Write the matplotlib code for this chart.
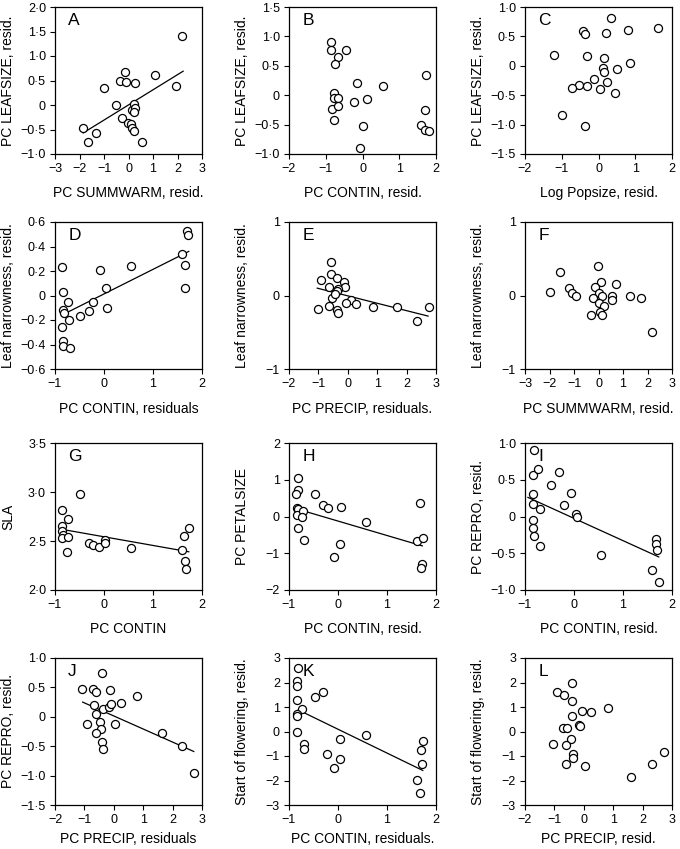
import matplotlib
matplotlib.use('Agg')
import matplotlib.pyplot as plt
from matplotlib.ticker import FixedLocator, FuncFormatter

plt.rcParams['font.family'] = ['Liberation Sans', 'DejaVu Sans']

# panel A
a_x = [-1.85, -1.66, -1.34, -1.02, -0.52, -0.33, -0.14, -0.11, -0.27, -0.03, 0.12,
       0.16, 0.22, 0.27, 0.22, 0.16, 0.24, 0.26, 0.54, 1.10, 1.94, 2.19]
a_y = [-0.47, -0.76, -0.58, 0.35, -0.01, 0.48, 0.67, 0.46, -0.27, -0.37, -0.38,
       -0.10, 0.03, -0.06, -0.14, -0.47, -0.53, 0.44, -0.76, 0.61, 0.39, 1.40]
a_fit = ([-1.85, 2.23], [-0.57, 0.69])

# panel B
b_x = [-0.86, -0.87, -0.67, -0.76, -0.46, -0.15, 0.56, -0.77, -0.78, -0.68, -0.82,
       -0.68, -0.77, -0.24, 0.11, 0.02, -0.07, 1.72, 1.71, 1.60, 1.69, 1.82]
b_y = [0.90, 0.77, 0.65, 0.53, 0.77, 0.21, 0.15, 0.03, -0.05, -0.04, -0.23,
       -0.19, -0.43, -0.12, -0.06, -0.53, -0.89, 0.35, -0.26, -0.50, -0.60, -0.61]

# panel C
c_x = [0.33, -0.42, -0.37, 0.20, 0.81, 1.61, -1.22, -0.32, 0.14, 0.87, 0.12,
       0.16, 0.51, -0.11, 0.24, -0.52, -0.71, -0.32, 0.05, 0.45, -0.99, -0.36]
c_y = [0.81, 0.59, 0.54, 0.55, 0.61, 0.65, 0.19, 0.16, 0.14, 0.05, -0.04,
       -0.11, -0.06, -0.22, -0.28, -0.33, -0.38, -0.34, -0.39, -0.47, -0.83, -1.03]

# panel D
d_x = [-0.85, -0.84, -0.73, -0.84, -0.82, -0.71, -0.85, -0.83, -0.84, -0.70, -0.48,
       -0.31, -0.23, -0.09, 0.04, 0.06, 0.55, 1.59, 1.69, 1.71, 1.66, 1.66]
d_y = [0.23, 0.03, -0.05, -0.12, -0.14, -0.20, -0.26, -0.37, -0.41, -0.43, -0.17,
       -0.13, -0.05, 0.21, 0.06, -0.10, 0.24, 0.34, 0.53, 0.49, 0.25, 0.06]
d_fit = ([-0.86, 1.73], [-0.16, 0.36])

# panel E
e_x = [-0.57, -0.57, -0.90, -0.37, -0.12, -0.65, -0.10, -0.33, -0.38, -0.55, -0.43,
       0.10, -0.05, 0.29, 0.85, 1.68, 2.75, 2.35, -1.03, -0.65, -0.38, -0.34]
e_y = [0.46, 0.29, 0.21, 0.24, 0.19, 0.12, 0.11, 0.09, 0.06, -0.03, 0.02,
       -0.06, -0.10, -0.12, -0.15, -0.16, -0.16, -0.35, -0.19, -0.14, -0.20, -0.24]
e_fit = ([-1.04, 2.73], [0.10, -0.28])

# panel F
f_x = [-1.98, -1.59, -1.22, -1.10, -0.90, -0.01, 0.12, -0.14, 0.03, 0.14, -0.22,
       0.03, 0.22, 0.05, -0.29, 0.14, 0.72, 0.56, 0.56, 1.29, 1.75, 2.20]
f_y = [0.05, 0.32, 0.10, 0.03, -0.01, 0.40, 0.18, 0.11, 0.04, 0.00, -0.04,
       -0.10, -0.14, -0.22, -0.26, -0.27, 0.15, 0.00, -0.06, -0.01, -0.04, -0.49]

# panel G
g_x = [-0.48, -0.86, -0.73, -0.85, -0.85, -0.84, -0.85, -0.73, -0.75, -0.31, -0.22,
       -0.10, 0.03, 0.03, 0.55, 1.60, 1.73, 1.63, 1.66, 1.68]
g_y = [2.98, 2.82, 2.72, 2.65, 2.60, 2.56, 2.53, 2.54, 2.39, 2.48, 2.46,
       2.44, 2.51, 2.48, 2.43, 2.41, 2.63, 2.55, 2.30, 2.21]
g_fit = ([-0.87, 1.73], [2.62, 2.39])

# panel H
h_x = [-0.82, -0.82, -0.85, -0.84, -0.82, -0.83, -0.71, -0.73, -0.82, -0.70, -0.46,
       -0.30, -0.21, 0.07, 0.05, -0.09, 0.57, 1.67, 1.62, 1.74, 1.72, 1.69]
h_y = [1.05, 0.71, 0.62, 0.24, 0.20, 0.05, 0.16, -0.02, -0.31, -0.65, 0.61,
       0.31, 0.24, 0.25, -0.74, -1.11, -0.16, 0.36, -0.67, -0.58, -1.29, -1.40]
h_fit = ([-0.85, 1.72], [0.21, -0.80])

# panel I
i_x = [-0.82, -0.84, -0.73, -0.31, -0.47, -0.06, -0.84, -0.84, -0.21, -0.70, 0.05,
       0.06, -0.84, -0.84, -0.82, -0.70, 0.56, 1.68, 1.68, 1.70, 1.59, 1.73]
i_y = [0.90, 0.57, 0.64, 0.61, 0.43, 0.32, 0.30, 0.17, 0.15, 0.10, 0.03,
       0.00, -0.05, -0.15, -0.27, -0.40, -0.53, -0.31, -0.37, -0.45, -0.73, -0.89]
i_fit = ([-0.94, 1.73], [0.26, -0.55])

# panel J
j_x = [-0.40, -1.07, -0.70, -0.59, -0.14, 0.80, -0.68, -0.38, -0.18, -0.08, 0.24,
       -0.60, -0.90, -0.46, 0.05, -0.42, -0.60, -0.39, -0.38, 1.64, 2.31, 2.72]
j_y = [0.74, 0.48, 0.47, 0.43, 0.46, 0.36, 0.20, 0.14, 0.16, 0.21, 0.23,
       0.05, -0.12, -0.09, -0.13, -0.21, -0.27, -0.43, -0.54, -0.28, -0.49, -0.96]
j_fit = ([-1.06, 2.72], [0.25, -0.59])

# panel K
k_x = [-0.82, -0.83, -0.83, -0.84, -0.73, -0.84, -0.83, -0.84, -0.47, -0.30, -0.70,
       -0.70, -0.23, 0.05, 0.05, -0.08, 0.57, 1.74, 1.70, 1.71, 1.61, 1.68]
k_y = [2.60, 2.05, 1.85, 1.27, 0.90, 0.71, 0.64, -0.01, 1.39, 1.60, -0.52,
       -0.71, -0.91, -0.31, -1.11, -1.50, -0.14, -0.39, -0.75, -1.34, -1.98, -2.49]
k_fit = ([-0.81, 1.73], [0.88, -1.59])

# panel L
l_x = [-0.39, -0.90, -0.66, -0.39, -0.39, -0.05, 0.25, 0.82, -0.15, -0.12, -0.70,
       -0.56, -0.43, -1.06, -0.59, -0.37, -0.36, -0.61, 0.05, 1.62, 2.31, 2.73]
l_y = [1.97, 1.60, 1.50, 1.23, 0.65, 0.82, 0.78, 0.95, 0.27, 0.24, 0.14,
       0.14, -0.32, -0.49, -0.57, -0.90, -1.08, -1.31, -1.41, -1.85, -1.31, -0.83]

panels = [
    ('A', a_x, a_y, a_fit, 'PC SUMMWARM, resid.', 'PC LEAFSIZE, resid.',
     [-3, -2, -1, 0, 1, 2, 3], [-1.0, -0.5, 0, 0.5, 1.0, 1.5, 2.0], 1),
    ('B', b_x, b_y, None, 'PC CONTIN, resid.', 'PC LEAFSIZE, resid.',
     [-2, -1, 0, 1, 2], [-1.0, -0.5, 0, 0.5, 1.0, 1.5], 1),
    ('C', c_x, c_y, None, 'Log Popsize, resid.', 'PC LEAFSIZE, resid.',
     [-2, -1, 0, 1, 2], [-1.5, -1.0, -0.5, 0, 0.5, 1.0], 1),
    ('D', d_x, d_y, d_fit, 'PC CONTIN, residuals', 'Leaf narrowness, resid.',
     [-1, 0, 1, 2], [-0.6, -0.4, -0.2, 0, 0.2, 0.4, 0.6], 1),
    ('E', e_x, e_y, e_fit, 'PC PRECIP, residuals.', 'Leaf narrowness, resid.',
     [-2, -1, 0, 1, 2, 3], [-1, 0, 1], 0),
    ('F', f_x, f_y, None, 'PC SUMMWARM, resid.', 'Leaf narrowness, resid.',
     [-3, -2, -1, 0, 1, 2, 3], [-1, 0, 1], 0),
    ('G', g_x, g_y, g_fit, 'PC CONTIN', 'SLA',
     [-1, 0, 1, 2], [2.0, 2.5, 3.0, 3.5], 1),
    ('H', h_x, h_y, h_fit, 'PC CONTIN, resid.', 'PC PETALSIZE',
     [-1, 0, 1, 2], [-2, -1, 0, 1, 2], 0),
    ('I', i_x, i_y, i_fit, 'PC CONTIN, resid.', 'PC REPRO, resid.',
     [-1, 0, 1, 2], [-1.0, -0.5, 0, 0.5, 1.0], 1),
    ('J', j_x, j_y, j_fit, 'PC PRECIP, residuals', 'PC REPRO, resid.',
     [-2, -1, 0, 1, 2, 3], [-1.5, -1.0, -0.5, 0, 0.5, 1.0], 1),
    ('K', k_x, k_y, k_fit, 'PC CONTIN, residuals.', 'Start of flowering, resid.',
     [-1, 0, 1, 2], [-3, -2, -1, 0, 1, 2, 3], 0),
    ('L', l_x, l_y, None, 'PC PRECIP, resid.', 'Start of flowering, resid.',
     [-2, -1, 0, 1, 2, 3], [-3, -2, -1, 0, 1, 2, 3], 0),
]


def tick_fmt(nd):
    def f(v, pos):
        if abs(v) < 1e-9:
            return '0'
        return f'{v:.{nd}f}'.replace('.', '\u00b7').replace('-', '\u2212')
    return FuncFormatter(f)


W, H = 680, 849
fig = plt.figure(figsize=(W / 100, H / 100), dpi=100)

lefts = [55, 289, 525]
tops = [7, 222, 443, 658]
aw, ah = 147, 147
xlab_y = [-0.22, -0.225, -0.215, -0.185]

for n, (letter, xs, ys, fit, xl, yl, xt, yt, nd) in enumerate(panels):
    r, c = divmod(n, 3)
    ax = fig.add_axes([lefts[c] / W, 1 - (tops[r] + ah) / H, aw / W, ah / H])
    ax.plot(xs, ys, 'o', ms=5.8, mfc='white', mec='black', mew=0.9, zorder=3)
    if fit is not None:
        ax.plot(fit[0], fit[1], color='black', lw=0.9, zorder=2)
    ax.set_xlim(xt[0], xt[-1])
    ax.set_ylim(yt[0], yt[-1])
    ax.xaxis.set_major_locator(FixedLocator(xt))
    ax.yaxis.set_major_locator(FixedLocator(yt))
    ax.xaxis.set_major_formatter(tick_fmt(0))
    ax.yaxis.set_major_formatter(tick_fmt(nd))
    ax.tick_params(direction='out', length=3.5, width=0.8, labelsize=9, pad=3)
    for s in ax.spines.values():
        s.set_linewidth(0.9)
    ax.set_xlabel(xl, fontsize=10)
    ax.set_ylabel(yl, fontsize=10)
    ax.xaxis.set_label_coords(0.5, xlab_y[r])
    ax.yaxis.set_label_coords(-0.27, 0.5)
    ax.text(0.09, 0.91, letter, transform=ax.transAxes, fontsize=12.5,
            ha='left', va='center')

fig.savefig('out.png', dpi=100)
